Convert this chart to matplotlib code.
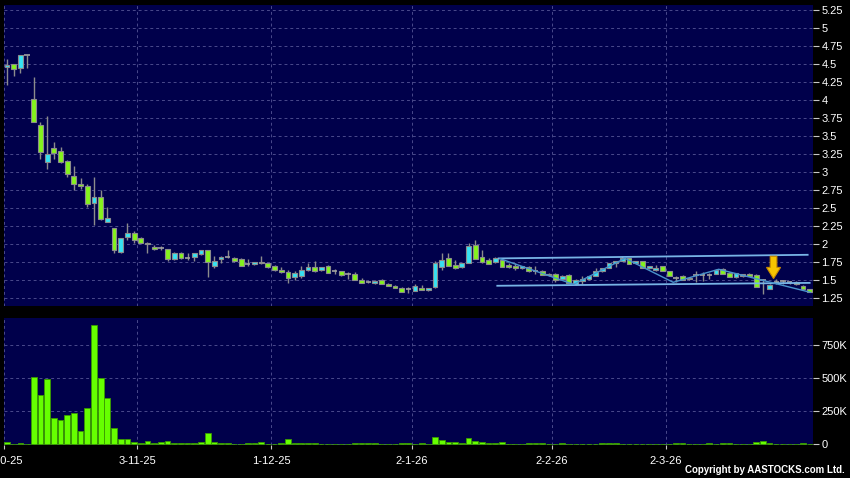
import matplotlib
matplotlib.use('Agg')
import matplotlib.pyplot as plt
from matplotlib.ticker import FuncFormatter
from matplotlib.patches import FancyArrow

plt.rcParams['font.family'] = ['Liberation Sans', 'DejaVu Sans']

# daily candles, 2-10-25 .. end of 3-26 (one entry per trading day)
opens = [4.46, 4.50, 4.45, 4.63, 4.02, 3.65, 3.14, 3.34, 3.29, 3.15,
         2.94, 2.84, 2.80, 2.57, 2.65, 2.31, 2.22, 1.89, 2.10, 2.15,
         2.09, 2.00, 1.96, 1.94, 1.93, 1.79, 1.88, 1.81, 1.82, 1.86,
         1.91, 1.70, 1.79, 1.82, 1.81, 1.79, 1.72, 1.72, 1.75, 1.74,
         1.69, 1.64, 1.61, 1.54, 1.55, 1.64, 1.68, 1.64, 1.70, 1.62,
         1.63, 1.59, 1.59, 1.50, 1.47, 1.46, 1.50, 1.45, 1.42, 1.39,
         1.37, 1.35, 1.39, 1.36, 1.40, 1.68, 1.81, 1.71, 1.68, 1.74,
         1.99, 1.82, 1.78, 1.75, 1.78, 1.71, 1.70, 1.66, 1.68, 1.63,
         1.63, 1.58, 1.59, 1.52, 1.57, 1.45, 1.48, 1.51, 1.56, 1.62,
         1.67, 1.73, 1.77, 1.81, 1.73, 1.76, 1.66, 1.64, 1.69, 1.62,
         1.53, 1.56, 1.53, 1.57, 1.57, 1.57, 1.58, 1.65, 1.60, 1.54,
         1.55, 1.58, 1.57, 1.50, 1.38, 1.47, 1.48, 1.47, 1.47, 1.42,
         1.38]
highs = [4.57, 4.50, 4.63, 4.63, 4.32, 3.70, 3.78, 3.42, 3.35, 3.17,
         3.08, 2.91, 2.83, 2.93, 2.75, 2.51, 2.22, 2.08, 2.29, 2.18,
         2.10, 2.03, 1.98, 1.97, 1.93, 1.89, 1.89, 1.87, 1.87, 1.92,
         1.91, 1.83, 1.83, 1.91, 1.82, 1.80, 1.79, 1.75, 1.83, 1.74,
         1.71, 1.68, 1.64, 1.63, 1.69, 1.73, 1.76, 1.68, 1.71, 1.65,
         1.63, 1.61, 1.61, 1.53, 1.49, 1.50, 1.51, 1.46, 1.43, 1.40,
         1.40, 1.45, 1.43, 1.39, 1.77, 1.88, 1.88, 1.78, 1.74, 2.01,
         2.05, 1.91, 1.80, 1.82, 1.79, 1.74, 1.73, 1.70, 1.69, 1.70,
         1.64, 1.60, 1.60, 1.57, 1.58, 1.51, 1.55, 1.55, 1.66, 1.67,
         1.74, 1.77, 1.84, 1.81, 1.76, 1.76, 1.70, 1.71, 1.70, 1.63,
         1.56, 1.57, 1.54, 1.62, 1.61, 1.60, 1.65, 1.66, 1.61, 1.60,
         1.59, 1.60, 1.58, 1.52, 1.44, 1.51, 1.50, 1.49, 1.48, 1.43,
         1.38]
lows = [4.21, 4.33, 4.38, 4.44, 3.70, 3.18, 3.04, 3.18, 3.12, 2.93,
        2.75, 2.77, 2.52, 2.26, 2.33, 2.30, 1.87, 1.87, 2.06, 2.02,
        2.01, 1.87, 1.91, 1.91, 1.77, 1.78, 1.79, 1.78, 1.77, 1.85,
        1.54, 1.66, 1.73, 1.80, 1.75, 1.70, 1.69, 1.71, 1.72, 1.67,
        1.63, 1.60, 1.46, 1.50, 1.53, 1.63, 1.61, 1.62, 1.60, 1.59,
        1.56, 1.51, 1.50, 1.46, 1.46, 1.45, 1.44, 1.41, 1.39, 1.34,
        1.32, 1.35, 1.36, 1.35, 1.39, 1.64, 1.69, 1.65, 1.67, 1.73,
        1.79, 1.74, 1.72, 1.74, 1.68, 1.66, 1.64, 1.65, 1.61, 1.59,
        1.57, 1.55, 1.47, 1.50, 1.46, 1.43, 1.44, 1.50, 1.55, 1.61,
        1.66, 1.68, 1.76, 1.72, 1.72, 1.66, 1.65, 1.62, 1.63, 1.55,
        1.47, 1.50, 1.50, 1.47, 1.48, 1.52, 1.58, 1.58, 1.54, 1.53,
        1.54, 1.55, 1.40, 1.31, 1.38, 1.44, 1.44, 1.45, 1.43, 1.38,
        1.33]
closes = [4.48, 4.43, 4.63, 4.63, 3.70, 3.28, 3.25, 3.26, 3.14, 2.97,
          2.84, 2.80, 2.56, 2.65, 2.35, 2.36, 1.91, 2.08, 2.15, 2.05,
          2.02, 2.02, 1.93, 1.94, 1.79, 1.88, 1.80, 1.81, 1.87, 1.91,
          1.75, 1.77, 1.82, 1.82, 1.76, 1.70, 1.72, 1.75, 1.73, 1.68,
          1.64, 1.61, 1.53, 1.60, 1.64, 1.68, 1.62, 1.68, 1.60, 1.62,
          1.57, 1.59, 1.50, 1.46, 1.47, 1.49, 1.44, 1.41, 1.39, 1.34,
          1.37, 1.42, 1.36, 1.39, 1.74, 1.78, 1.69, 1.66, 1.73, 1.97,
          1.79, 1.75, 1.72, 1.81, 1.68, 1.68, 1.67, 1.69, 1.63, 1.63,
          1.57, 1.57, 1.50, 1.56, 1.46, 1.50, 1.51, 1.55, 1.62, 1.67,
          1.73, 1.76, 1.81, 1.72, 1.76, 1.66, 1.69, 1.67, 1.63, 1.55,
          1.53, 1.50, 1.51, 1.57, 1.57, 1.57, 1.64, 1.58, 1.54, 1.60,
          1.58, 1.55, 1.40, 1.50, 1.43, 1.47, 1.48, 1.47, 1.44, 1.38,
          1.33]
# volume in thousands of shares
volumes_k = [18, 5, 13, 5, 506, 374, 491, 196, 186, 221,
             239, 102, 272, 900, 504, 348, 122, 43, 38, 15,
             8, 23, 10, 18, 25, 8, 8, 8, 8, 18,
             89, 20, 10, 10, 5, 5, 8, 8, 15, 5,
             5, 8, 43, 10, 12, 12, 12, 5, 5, 5,
             3, 5, 10, 10, 10, 10, 3, 5, 3, 10,
             10, 3, 10, 5, 54, 36, 21, 15, 13, 49,
             28, 21, 10, 10, 15, 5, 3, 5, 8, 8,
             8, 5, 5, 8, 3, 5, 3, 3, 5, 8,
             8, 8, 5, 3, 3, 5, 3, 5, 3, 5,
             8, 8, 3, 3, 3, 8, 3, 8, 8, 5,
             3, 5, 21, 23, 8, 3, 3, 3, 3, 8,
             3]

month_ticks = [-0.45, 19.5, 39.5, 60.5, 81.5, 98.5]
month_labels = ['2-10-25', '3-11-25', '1-12-25', '2-1-26', '2-2-26', '2-3-26']

# drawn annotations (channel, zigzag, arrow)
upper_line_x, upper_line_y = [73.5, 119.7], [1.80, 1.85]
lower_line_x, lower_line_y = [73.3, 120.0], [1.42, 1.46]
zigzag_x = [73.7, 84.7, 92.4, 99.6, 106.4, 120.1]
zigzag_y = [1.796, 1.44, 1.801, 1.468, 1.649, 1.329]
arrow_x, arrow_top, arrow_bottom = 114.6, 1.83, 1.52

BG = '#00004b'
GRID = '#4a4a8c'
UP = '#36e2f2'
DOWN = '#84f31c'
EDGE = '#8c8c8c'

fig = plt.figure(figsize=(8.5, 4.78), dpi=100, facecolor='black')
ax = fig.add_axes([4 / 850, 1 - 306 / 478, 809 / 850, 301 / 478])
axv = fig.add_axes([4 / 850, 1 - 445 / 478, 809 / 850, 127 / 478], sharex=ax)

idx = list(range(len(opens)))
body_idx, body_bot, body_h, body_col = [], [], [], []
doji_idx, doji_y = [], []
for i, o, c in zip(idx, opens, closes):
    if c == o:
        doji_idx.append(i)
        doji_y.append(o)
    else:
        body_idx.append(i)
        body_bot.append(min(o, c))
        body_h.append(abs(c - o))
        body_col.append(UP if c > o else DOWN)

ax.vlines(idx, lows, highs, color=EDGE, linewidth=1, zorder=2)
ax.bar(body_idx, body_h, bottom=body_bot, width=0.72, color=body_col,
       edgecolor=EDGE, linewidth=0.8, zorder=3)
ax.hlines(doji_y, [i - 0.4 for i in doji_idx], [i + 0.4 for i in doji_idx],
          color='#a0a0a0', linewidth=1.2, zorder=3)

ax.plot(upper_line_x, upper_line_y, color='#78b4e6', linewidth=1.3, zorder=4)
ax.plot(lower_line_x, lower_line_y, color='#78b4e6', linewidth=1.3, zorder=4)
ax.plot(zigzag_x, zigzag_y, color='#4a94cc', linewidth=1.0, zorder=4)
ax.add_patch(FancyArrow(arrow_x, arrow_top, 0, arrow_bottom - arrow_top,
                        width=1.0, head_width=2.1, head_length=0.155,
                        length_includes_head=True, facecolor='#f6c400',
                        edgecolor='#c88a00', linewidth=0.8, zorder=5))

axv.bar(idx, [v * 1000 for v in volumes_k], width=0.86, color='#66ff00',
        edgecolor='#3a9a00', linewidth=0.6, zorder=3)

ax.set_xlim(-0.45, 120.5)
ax.set_ylim(1.139, 5.319)
axv.set_ylim(-5000, 953000)

ax.set_yticks([1.25 + 0.25 * k for k in range(17)])
ax.yaxis.set_major_formatter(FuncFormatter(lambda v, p: f'{v:g}'))
axv.set_yticks([0, 250000, 500000, 750000])
axv.yaxis.set_major_formatter(FuncFormatter(lambda v, p: '0' if v == 0 else f'{int(round(v / 1000))}K'))
axv.set_xticks(month_ticks, month_labels)

for a in (ax, axv):
    a.set_facecolor(BG)
    for s in a.spines.values():
        s.set_visible(False)
    a.yaxis.tick_right()
    a.tick_params(axis='y', colors='#c8c8c8', labelcolor='white', labelsize=8,
                  length=4, pad=2, width=0.8)
    a.tick_params(axis='x', colors='#c8c8c8', labelcolor='white', labelsize=8,
                  length=3, pad=5, width=0.8)
    a.grid(True, color=GRID, linestyle=(0, (3, 3)), linewidth=0.7, zorder=0)
    a.set_axisbelow(True)
ax.tick_params(axis='x', bottom=False, labelbottom=False)

fig.text(845 / 850, 1 - 470 / 478, 'Copyright by AASTOCKS.com Ltd.', ha='right',
         va='center', color='white', fontsize=7, fontweight='bold')

fig.savefig('out.png', dpi=100, facecolor='black')
